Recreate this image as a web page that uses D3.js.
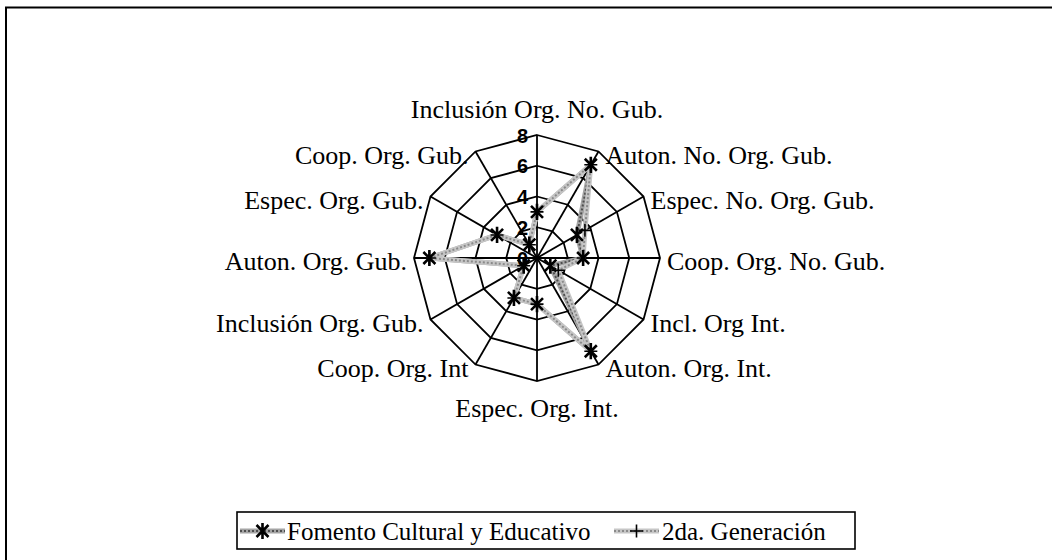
<!DOCTYPE html>
<html>
<head>
<meta charset="utf-8">
<script src="https://cdn.jsdelivr.net/npm/d3@7"></script>
<style>
  body { margin: 0; background: #fff; }
  svg { display: block; }
</style>
</head>
<body>
<div id="chart"></div>
<script>
// Chart data
const categories = [
    "Inclusión Org. No. Gub.", "Auton. No. Org. Gub.", "Espec. No. Org. Gub.",
    "Coop. Org. No. Gub.", "Incl. Org Int.", "Auton. Org. Int.",
    "Espec. Org. Int.", "Coop. Org. Int", "Inclusión Org. Gub.",
    "Auton. Org. Gub.", "Espec. Org. Gub.", "Coop. Org. Gub."
];
const fomento = [3, 7, 3, 3, 1, 7, 3, 3, 1, 7, 3, 1];
const segunda = [3, 7, 3.6, 3, 1.6, 7, 3, 3, 1, 7, 3, 1];
const seriesNames = ["Fomento Cultural y Educativo", "2da. Generación"];
const tickValues = [0, 2, 4, 6, 8];

const width = 1052, height = 560;
const cx = 537, cy = 258, R = 123;

const svg = d3.select("#chart").append("svg")
    .attr("width", width)
    .attr("height", height);

// outer frame (runs off the right / bottom edge)
svg.append("rect")
    .attr("x", 6).attr("y", 7.5)
    .attr("width", 1200).attr("height", 700)
    .attr("fill", "none")
    .attr("stroke", "#000")
    .attr("stroke-width", 2);

const g = svg.append("g")
    .attr("transform", "translate(" + cx + "," + cy + ")");

const r = d3.scaleLinear().domain([0, 8]).range([0, R]);
const angle = d3.scalePoint()
    .domain(d3.range(categories.length))
    .range([0, 2 * Math.PI * (categories.length - 1) / categories.length]);

const px = (i, v) => r(v) * Math.sin(angle(i));
const py = (i, v) => -r(v) * Math.cos(angle(i));

// grid rings
const ring = d3.lineRadial()
    .angle((d, i) => angle(i))
    .radius(d => r(d))
    .curve(d3.curveLinearClosed);

tickValues.filter(t => t > 0).forEach(function (t) {
    g.append("path")
        .attr("d", ring(categories.map(() => t)))
        .attr("fill", "none")
        .attr("stroke", "#000")
        .attr("stroke-width", 1.8);
});

// spokes
g.selectAll(".spoke")
    .data(categories)
    .enter().append("line")
    .attr("class", "spoke")
    .attr("x1", 0).attr("y1", 0)
    .attr("x2", (d, i) => px(i, 8))
    .attr("y2", (d, i) => py(i, 8))
    .attr("stroke", "#000")
    .attr("stroke-width", 1.8);

// category labels
g.selectAll(".cat")
    .data(categories)
    .enter().append("text")
    .attr("class", "cat")
    .attr("font-family", "'Liberation Serif', 'Times New Roman', serif")
    .attr("font-size", 26)
    .attr("fill", "#000")
    .each(function (d, i) {
        const x = px(i, 8), y = py(i, 8);
        const t = d3.select(this).text(d);
        if (i === 0) {
            t.attr("x", x).attr("y", y - 17).attr("text-anchor", "middle");
        } else if (i === 6) {
            t.attr("x", x).attr("y", y + 36).attr("text-anchor", "middle");
        } else if (i < 6) {
            t.attr("x", x + 7).attr("y", y + 3).attr("dy", "0.35em").attr("text-anchor", "start");
        } else {
            t.attr("x", x - 7).attr("y", y + 3).attr("dy", "0.35em").attr("text-anchor", "end");
        }
    });

// series lines
const seriesLine = d3.lineRadial()
    .angle((d, i) => angle(i))
    .radius(d => r(d))
    .curve(d3.curveLinearClosed);

const styles = [
    { base: "#a4a4a4", dots: "#4e4e4e" },
    { base: "#c6c6c6", dots: "#8a8a8a" }
];

[fomento, segunda].forEach(function (s, k) {
    g.append("path")
        .attr("d", seriesLine(s))
        .attr("fill", "none")
        .attr("stroke", styles[k].base)
        .attr("stroke-width", 5)
        .attr("stroke-linejoin", "round");
    g.append("path")
        .attr("d", seriesLine(s))
        .attr("fill", "none")
        .attr("stroke", styles[k].dots)
        .attr("stroke-width", 2)
        .attr("stroke-dasharray", "2,2");
});

// markers
function asterisk(sel, s) {
    sel.append("path")
        .attr("d", "M" + (-s) + "," + (-s) + "L" + s + "," + s +
            "M" + (-s) + "," + s + "L" + s + "," + (-s) +
            "M0," + (-s * 1.35) + "L0," + (s * 1.35))
        .attr("stroke", "#000")
        .attr("stroke-width", 2.6)
        .attr("fill", "none");
}
function plus(sel, s) {
    sel.append("path")
        .attr("d", "M" + (-s) + ",0L" + s + ",0M0," + (-s) + "L0," + s)
        .attr("stroke", "#000")
        .attr("stroke-width", 1.6)
        .attr("fill", "none");
}

fomento.forEach(function (v, i) {
    asterisk(g.append("g").attr("transform", "translate(" + px(i, v) + "," + py(i, v) + ")"), 6);
});
segunda.forEach(function (v, i) {
    plus(g.append("g").attr("transform", "translate(" + px(i, v) + "," + py(i, v) + ")"), 6.5);
});

// radial tick labels
g.selectAll(".tick")
    .data(tickValues)
    .enter().append("text")
    .attr("class", "tick")
    .attr("x", -9)
    .attr("y", d => -r(d))
    .attr("dy", "0.38em")
    .attr("text-anchor", "end")
    .attr("font-family", "'Liberation Sans', Arial, sans-serif")
    .attr("font-weight", "bold")
    .attr("font-size", 20)
    .text(d => d);

// legend
const legend = svg.append("g");
legend.append("rect")
    .attr("x", 237).attr("y", 512)
    .attr("width", 618).attr("height", 37)
    .attr("fill", "#fff")
    .attr("stroke", "#000")
    .attr("stroke-width", 1.6);

const legendItems = [
    { x: 240, textX: 287, marker: asterisk, size: 6 },
    { x: 614, textX: 662, marker: plus, size: 6.5 }
];
legendItems.forEach(function (it, k) {
    const ly = 531;
    legend.append("line")
        .attr("x1", it.x).attr("x2", it.x + 45)
        .attr("y1", ly).attr("y2", ly)
        .attr("stroke", styles[k].base)
        .attr("stroke-width", 5);
    legend.append("line")
        .attr("x1", it.x).attr("x2", it.x + 45)
        .attr("y1", ly).attr("y2", ly)
        .attr("stroke", styles[k].dots)
        .attr("stroke-width", 2)
        .attr("stroke-dasharray", "2,2");
    it.marker(legend.append("g").attr("transform", "translate(" + (it.x + 22.5) + "," + ly + ")"), it.size);
    legend.append("text")
        .attr("x", it.textX)
        .attr("y", ly)
        .attr("dy", "0.35em")
        .attr("font-family", "'Liberation Serif', 'Times New Roman', serif")
        .attr("font-size", 25)
        .text(seriesNames[k]);
});
</script>
</body>
</html>
